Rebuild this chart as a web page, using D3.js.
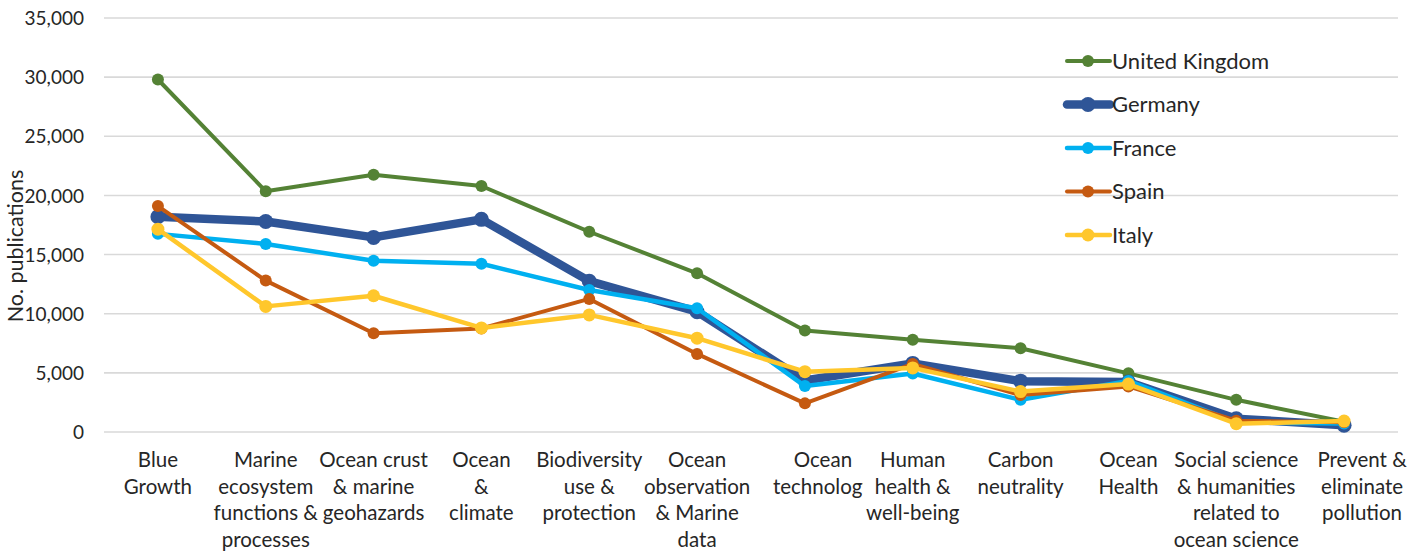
<!DOCTYPE html>
<html>
<head>
<meta charset="utf-8">
<script src="https://cdn.jsdelivr.net/npm/d3@7/dist/d3.min.js"></script>
<style>
  html, body { margin: 0; padding: 0; background: #fff; }
  svg { display: block; }
  text { font-family: Lato, "Open Sans", sans-serif; fill: #262626; }
</style>
</head>
<body>
<svg id="chart" width="1427" height="557"></svg>
<script>
// Research themes (line breaks mark the wrapped axis labels)
const categories = [
  "Blue\nGrowth",
  "Marine\necosystem\nfunctions &\nprocesses",
  "Ocean crust\n& marine\ngeohazards",
  "Ocean\n&\nclimate",
  "Biodiversity\nuse &\nprotection",
  "Ocean\nobservation\n& Marine\ndata",
  "Ocean\ntechnology",
  "Human\nhealth &\nwell-being",
  "Carbon\nneutrality",
  "Ocean\nHealth",
  "Social science\n& humanities\nrelated to\nocean science",
  "Prevent &\neliminate\npollution"
];

const seriesNames = ["United Kingdom", "Germany", "France", "Spain", "Italy"];

// Number of publications per theme
const unitedKingdom = [29800, 20350, 21750, 20800, 16930, 13420, 8580, 7800, 7080, 4960, 2720, 860];
const germany       = [18200, 17800, 16450, 17980, 12750, 10170, 4350, 5800, 4300, 4230, 1120, 580];
const france        = [16750, 15900, 14480, 14220, 12000, 10460, 3880, 4950, 2720, 4320, 820, 720];
const spain         = [19100, 12800, 8350, 8750, 11250, 6600, 2420, 5750, 3120, 3850, 960, 820];
const italy         = [17150, 10620, 11520, 8800, 9900, 7930, 5100, 5420, 3420, 4050, 700, 920];

const yTicks = [0, 5000, 10000, 15000, 20000, 25000, 30000, 35000];

const seriesValues = [unitedKingdom, germany, france, spain, italy];
const colors = ["#548235", "#2F5597", "#00B0F0", "#C55A11", "#FFC72C"];
const widths = [4, 8.5, 4.5, 4, 4.5];
const radii  = [6, 7.5, 6, 6, 6.5];

const svg = d3.select("#chart");

const x = d3.scalePoint()
  .domain(d3.range(categories.length))
  .range([104, 1398])
  .padding(0.5);

const y = d3.scaleLinear()
  .domain([0, 35000])
  .range([432, 18]);

// Horizontal gridlines
svg.append("g")
  .selectAll("line")
  .data(yTicks)
  .join("line")
  .attr("x1", 104)
  .attr("x2", 1398)
  .attr("y1", d => y(d))
  .attr("y2", d => y(d))
  .attr("stroke", "#d9d9d9")
  .attr("stroke-width", 1.6);

// Y axis tick labels
const yAxis = d3.axisLeft(y)
  .tickValues(yTicks)
  .tickFormat(d3.format(","))
  .tickSize(0)
  .tickPadding(0);

const yg = svg.append("g")
  .attr("transform", "translate(84,0)")
  .call(yAxis);
yg.select(".domain").remove();
yg.selectAll("text")
  .attr("font-family", "Lato, sans-serif")
  .attr("font-size", 19)
  .attr("fill", "#262626")
  .attr("dy", "0.35em");

// Y axis title
svg.append("text")
  .attr("transform", "translate(23,246) rotate(-90)")
  .attr("text-anchor", "middle")
  .attr("font-size", 21.5)
  .text("No. publications");

// X axis category labels. Crowded labels are nudged right; the
// "Ocean technology" label is cut where the next label begins.
const nudge = { 6: 18, 11: 18 };
const defs = svg.append("defs");
const labelG = svg.append("g");
categories.forEach((c, i) => {
  const cx = x(i) + (nudge[i] || 0);
  const lines = c.split("\n");
  const t = labelG.append("text")
    .attr("text-anchor", "middle")
    .attr("font-size", 20.5);
  lines.forEach((ln, j) => {
    t.append("tspan")
      .attr("x", cx)
      .attr("y", 467 + j * 26.5)
      .text(ln);
  });
  if (i === 6) {
    defs.append("clipPath").attr("id", "clipTech")
      .append("rect")
      .attr("x", x(i) - x.step() / 2).attr("y", 440)
      .attr("width", x(i + 1) - 50 - (x(i) - x.step() / 2)).attr("height", 117);
    t.attr("clip-path", "url(#clipTech)");
  }
});

// Series lines and markers
const line = d3.line()
  .x((d, i) => x(i))
  .y(d => y(d));

seriesValues.forEach((vals, s) => {
  const g = svg.append("g");
  g.append("path")
    .datum(vals)
    .attr("d", line)
    .attr("fill", "none")
    .attr("stroke", colors[s])
    .attr("stroke-width", widths[s])
    .attr("stroke-linejoin", "round")
    .attr("stroke-linecap", "round");
  g.selectAll("circle")
    .data(vals)
    .join("circle")
    .attr("cx", (d, i) => x(i))
    .attr("cy", d => y(d))
    .attr("r", radii[s])
    .attr("fill", colors[s]);
});

// Legend
const legend = svg.append("g");
seriesNames.forEach((name, s) => {
  const ly = 61 + s * 43.5;
  legend.append("line")
    .attr("x1", 1067).attr("x2", 1110)
    .attr("y1", ly).attr("y2", ly)
    .attr("stroke", colors[s])
    .attr("stroke-width", widths[s])
    .attr("stroke-linecap", "round");
  legend.append("circle")
    .attr("cx", 1088).attr("cy", ly)
    .attr("r", radii[s])
    .attr("fill", colors[s]);
  legend.append("text")
    .attr("x", 1112)
    .attr("y", ly)
    .attr("dy", "0.35em")
    .attr("font-size", 22)
    .text(name);
});
</script>
</body>
</html>
